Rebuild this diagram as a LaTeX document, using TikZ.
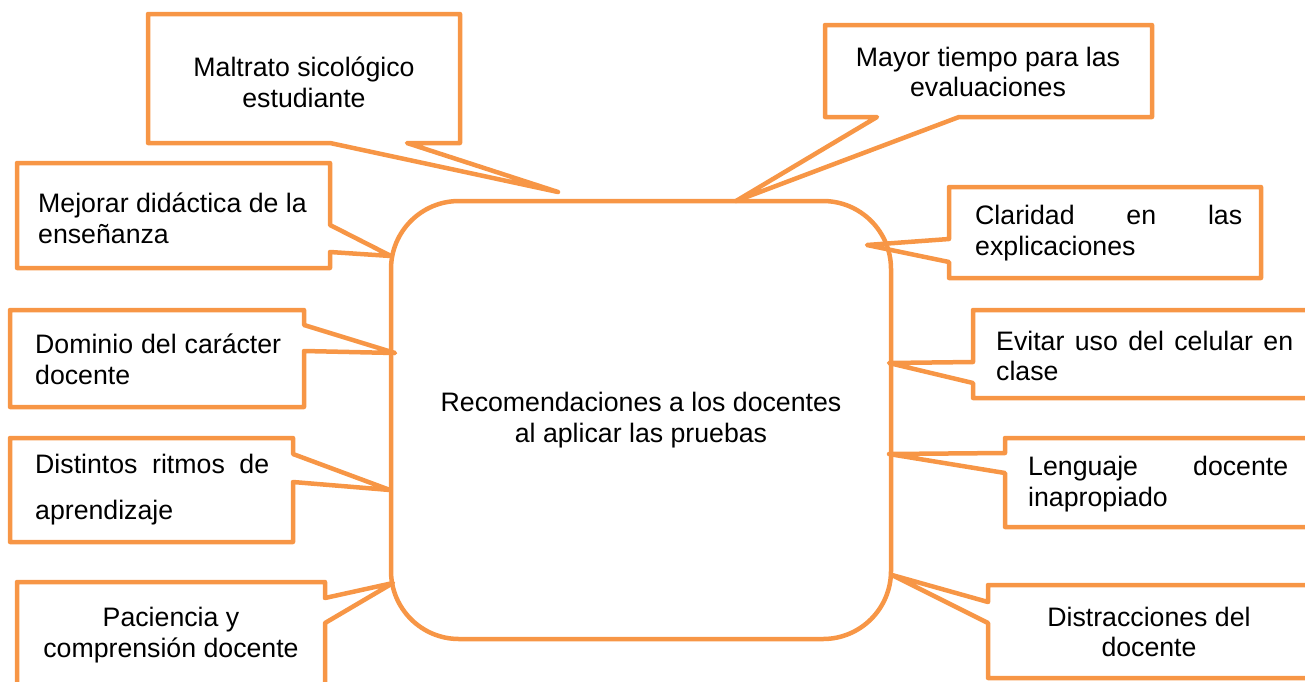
\documentclass[tikz,border=0pt]{standalone}
\usepackage{fontspec}
\setmainfont{Liberation Sans}
\usepackage{tikz}
\definecolor{calloutorange}{HTML}{F79646}

\begin{document}
\begin{tikzpicture}[x=1pt, y=-1pt, font=\fontsize{26.7}{30.7}\selectfont]
\tikzstyle{bubble}=[draw=calloutorange, line width=4.5pt, line join=round]
\tikzstyle{lbl}=[inner sep=0pt, align=center]
\tikzstyle{jlbl}=[inner sep=0pt, align=justify, anchor=west]
\useasboundingbox (0,0) rectangle (1305,681);
\clip (0,0) rectangle (1305,681);

\node[bubble, rounded corners=68pt, minimum width=500pt, minimum height=438pt, align=center] (rec) at (641,420)
  {Recomendaciones a los docentes\\al aplicar las pruebas};

\node[lbl] (maltrato) at (304,82) {Maltrato sicológico\\estudiante};
\node[lbl] (tiempo) at (988,72) {Mayor tiempo para las\\evaluaciones};
\node[lbl, align=left, anchor=west] (didactica) at (38,218) {Mejorar didáctica de la\\enseñanza};
\node[jlbl, text width=267pt] (claridad) at (975,233) {Claridad en las\linebreak explicaciones};
\node[jlbl, text width=246pt] (dominio) at (35,359) {Dominio del carácter\linebreak docente};
\node[jlbl, text width=234pt, font=\fontsize{26.7}{46}\selectfont] (ritmos) at (35,490) {Distintos ritmos de\linebreak aprendizaje};
\node[lbl] (paciencia) at (171,635) {Paciencia y\\comprensión docente};
\node[jlbl, text width=297pt] (celular) at (996,356) {Evitar uso del celular en\linebreak clase};
\node[jlbl, text width=260pt] (lenguaje) at (1028,484) {Lenguaje docente\linebreak inapropiado};
\node[lbl] (distracciones) at (1149,632) {Distracciones del\\docente};

\draw[bubble] (148,14) -- (460,14) -- (460,143) -- (407,143) -- (558,192) -- (330,143) -- (148,143) -- cycle;
\draw[bubble] (825,25) -- (1152,25) -- (1152,117) -- (959,117) -- (736,201) -- (877,117) -- (825,117) -- cycle;
\draw[bubble] (17,163) -- (330,163) -- (330,225) -- (391,256) -- (330,252) -- (330,268) -- (17,268) -- cycle;
\draw[bubble] (949,187) -- (1261,187) -- (1261,278) -- (949,278) -- (949,262) -- (867,245) -- (949,239) -- cycle;
\draw[bubble] (10,310) -- (304,310) -- (304,325) -- (395,353) -- (304,351) -- (304,407) -- (10,407) -- cycle;
\draw[bubble] (10,438) -- (293,438) -- (293,454) -- (390,490) -- (293,482) -- (293,542) -- (10,542) -- cycle;
\draw[bubble] (17,582) -- (325,582) -- (325,598) -- (393,583) -- (325,623) -- (325,700) -- (17,700) -- cycle;
\draw[bubble] (973,310) -- (1320,310) -- (1320,398) -- (973,398) -- (973,383) -- (889,363) -- (973,362) -- cycle;
\draw[bubble] (1005,438) -- (1320,438) -- (1320,527) -- (1005,527) -- (1005,473) -- (889,454) -- (1005,453) -- cycle;
\draw[bubble] (988,585) -- (1320,585) -- (1320,678) -- (988,678) -- (988,623) -- (892,575) -- (988,602) -- cycle;
\end{tikzpicture}
\end{document}
